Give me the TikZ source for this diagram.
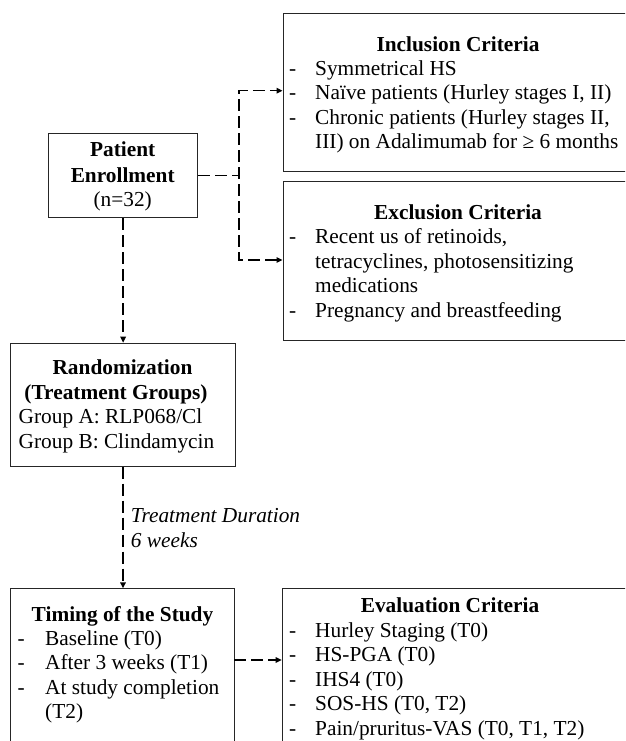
\documentclass[tikz,border=0pt]{standalone}
\usepackage{fontspec}
\setmainfont{Liberation Serif}
\usetikzlibrary{arrows.meta}
\newcommand{\myfs}{\fontsize{21.33}{24.5}\selectfont}
\begin{document}
\begin{tikzpicture}[x=1pt,y=-1pt,
  boxst/.style={draw=black!85,line width=1pt,rectangle,inner sep=0pt,anchor=north west},
  ttl/.style={font=\myfs\bfseries,inner sep=0pt,anchor=base},
  itm/.style={font=\myfs,inner sep=0pt,anchor=base west},
  ctr/.style={font=\myfs,inner sep=0pt,anchor=base},
  conn/.style={line width=1.5pt,dash pattern=on 12pt off 5pt},
  tipd/.style={-{Triangle[length=6pt,width=5.5pt]}},
  tipb/.style={{Triangle[length=6pt,width=5.5pt]}-{Triangle[length=6pt,width=5.5pt]}}]
\useasboundingbox (0,0) rectangle (625,741);
\clip (0,0) rectangle (625,741);
\fill[white] (0,0) rectangle (625,741);

% boxes
\node[boxst,minimum width=360pt,minimum height=158.3pt] (inc) at (282.5,12.7) {};
\node[boxst,minimum width=360pt,minimum height=159.3pt] (exc) at (282.5,180.7) {};
\node[boxst,minimum width=149.3pt,minimum height=84.6pt] (pe) at (48,132.7) {};
\node[boxst,minimum width=225pt,minimum height=123pt] (rnd) at (10,342.7) {};
\node[boxst,minimum width=224.3pt,minimum height=200pt] (tim) at (10,588.3) {};
\node[boxst,minimum width=360pt,minimum height=200pt] (eva) at (281.7,588.3) {};

% patient enrollment
\node[ttl] (pe1) at (122.7,157) {Patient};
\node[ttl] (pe2) at (122.7,182) {Enrollment};
\node[ctr] (pe3) at (122.7,206.5) {(n=32)};

% inclusion
\node[ttl] (inct) at (458,52) {Inclusion Criteria};
\node[itm] (incd1) at (289,75.5) {-};
\node[itm] (inci1) at (315,75.5) {Symmetrical HS};
\node[itm] (incd2) at (289,100) {-};
\node[itm] (inci2) at (315,100) {Naïve patients (Hurley stages I, II)};
\node[itm] (incd3) at (289,124.5) {-};
\node[itm] (inci3) at (315,124.5) {Chronic patients (Hurley stages II,};
\node[itm] (inci4) at (315,149) {III) on Adalimumab for ≥ 6 months};

% exclusion
\node[ttl] (exct) at (458,219) {Exclusion Criteria};
\node[itm] (excd1) at (289,243.5) {-};
\node[itm] (exci1) at (315,243.5) {Recent us of retinoids,};
\node[itm] (exci2) at (315,268) {tetracyclines, photosensitizing};
\node[itm] (exci3) at (315,292.5) {medications};
\node[itm] (excd2) at (289,317) {-};
\node[itm] (exci4) at (315,317) {Pregnancy and breastfeeding};

% randomization
\node[ttl] (r1) at (122.5,374) {Randomization};
\node[ttl] (r2) at (116,399) {(Treatment Groups)};
\node[itm] (r3) at (18.5,423.3) {Group A: RLP068/Cl};
\node[itm] (r4) at (18.5,448.3) {Group B: Clindamycin};

% duration
\node[itm,font=\myfs\itshape] (du1) at (130.7,522.3) {Treatment Duration};
\node[itm,font=\myfs\itshape] (du2) at (130.7,547.3) {6 weeks};

% timing
\node[ttl] (tt) at (122.5,621) {Timing of the Study};
\node[itm] (td1) at (17.5,645) {-};
\node[itm] (ti1) at (45,645) {Baseline (T0)};
\node[itm] (td2) at (17.5,669.5) {-};
\node[itm] (ti2) at (45,669.5) {After 3 weeks (T1)};
\node[itm] (td3) at (17.5,694) {-};
\node[itm] (ti3) at (45,694) {At study completion};
\node[itm] (ti4) at (45,718.5) {(T2)};

% evaluation
\node[ttl] (et) at (450,612) {Evaluation Criteria};
\node[itm] (ed1) at (289,637) {-};
\node[itm] (ei1) at (315,637) {Hurley Staging (T0)};
\node[itm] (ed2) at (289,661.5) {-};
\node[itm] (ei2) at (315,661.5) {HS-PGA (T0)};
\node[itm] (ed3) at (289,686) {-};
\node[itm] (ei3) at (315,686) {IHS4 (T0)};
\node[itm] (ed4) at (289,710.5) {-};
\node[itm] (ei4) at (315,710.5) {SOS-HS (T0, T2)};
\node[itm] (ed5) at (289,735) {-};
\node[itm] (ei5) at (315,735) {Pain/pruritus-VAS (T0, T1, T2)};

% connectors
\coordinate (jt) at (239,90.7);
\coordinate (jb) at (239,260);
\coordinate (ta) at (234.3,660);
\draw[conn] (pe.east) -- (pe.east -| jt);
\draw[conn,tipb] (jb -| exc.west) -- (jb) -- (jt) -- (jt -| inc.west);
\draw[conn,tipd] (pe.south) -- (pe.south |- rnd.north);
\draw[conn,tipd] (rnd.south) -- (rnd.south |- tim.north);
\draw[conn,tipd] (ta) -- (ta -| eva.west);
\end{tikzpicture}
\end{document}
